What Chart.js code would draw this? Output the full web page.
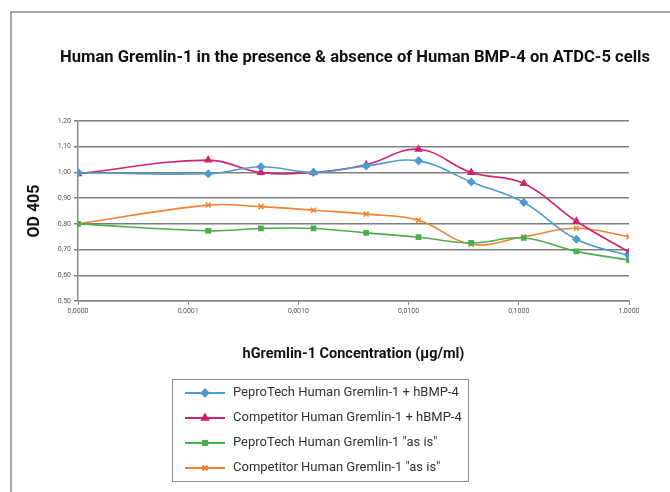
<!DOCTYPE html>
<html>
<head>
<meta charset="utf-8">
<script src="https://cdn.jsdelivr.net/npm/chart.js@4.4.1/dist/chart.umd.min.js"></script>
<style>
  html, body { margin: 0; background: #fff; }
  #wrap { width: 670px; height: 492px; }
</style>
</head>
<body>
<div id="wrap"><canvas id="chart" width="670" height="492"></canvas></div>
<script>
// hGremlin-1 concentration (µg/ml), 3-fold dilutions; first point is the "0" control
const concentrations = [0.00001, 0.000152, 0.000457, 0.00137, 0.00412, 0.0123, 0.037, 0.111, 0.333, 1.0];

const peproBmp    = [1.00, 0.995, 1.022, 1.00, 1.025, 1.045, 0.963, 0.883, 0.740, 0.676];
const competBmp   = [0.995, 1.048, 1.00, 1.00, 1.030, 1.090, 1.000, 0.957, 0.810, 0.690];
const peproAsIs   = [0.80, 0.773, 0.782, 0.782, 0.765, 0.748, 0.726, 0.745, 0.693, 0.659];
const competAsIs  = [0.80, 0.873, 0.867, 0.853, 0.838, 0.814, 0.721, 0.750, 0.783, 0.750];

const seriesNames = [
  'PeproTech Human Gremlin-1 + hBMP-4',
  'Competitor Human Gremlin-1 + hBMP-4',
  'PeproTech Human Gremlin-1 "as is"',
  'Competitor Human Gremlin-1 "as is"'
];

const xTicks = [0.00001, 0.0001, 0.001, 0.01, 0.1, 1];
const xTickLabels = ['0,0000', '0,0001', '0,0010', '0,0100', '0,1000', '1,0000'];
const yTicks = [0.5, 0.6, 0.7, 0.8, 0.9, 1.0, 1.1, 1.2];

const chartTitle = 'Human Gremlin-1 in the presence & absence of Human BMP-4 on ATDC-5 cells';

const toPoints = vals => vals.map((v, i) => ({ x: concentrations[i], y: v }));

function series(label, vals, color, style, r) {
  return {
    label: label,
    data: toPoints(vals),
    borderColor: color,
    backgroundColor: color,
    borderWidth: 1.6,
    pointStyle: style,
    pointRadius: r,
    pointBorderWidth: 1.5,
    tension: 0.4
  };
}

// outer frame + title (title is wider than the plot, so drawn by hand)
const frame = {
  id: 'frame',
  beforeDraw(chart) {
    const ctx = chart.ctx;
    ctx.save();
    ctx.strokeStyle = '#8a8a8a';
    ctx.lineWidth = 1.5;
    ctx.beginPath();
    ctx.moveTo(11, 492);
    ctx.lineTo(11, 12);
    ctx.lineTo(670, 12);
    ctx.stroke();
    ctx.fillStyle = '#111';
    ctx.font = 'bold 16.6px Roboto';
    ctx.textAlign = 'center';
    ctx.textBaseline = 'middle';
    ctx.fillText(chartTitle, 355, 58);
    ctx.restore();
  }
};

// boxed legend under the axis title
const legendBox = {
  id: 'legendBox',
  afterDraw(chart) {
    const ctx = chart.ctx;
    ctx.save();
    ctx.strokeStyle = '#8c8c8c';
    ctx.lineWidth = 1;
    ctx.strokeRect(172.5, 379.5, 296, 102);
    chart.data.datasets.forEach((ds, i) => {
      const y = 393 + i * 25;
      ctx.strokeStyle = ds.borderColor;
      ctx.lineWidth = 2;
      ctx.beginPath();
      ctx.moveTo(185, y);
      ctx.lineTo(225, y);
      ctx.stroke();
      ctx.fillStyle = ds.backgroundColor;
      Chart.helpers.drawPoint(ctx, { pointStyle: ds.pointStyle, radius: ds.pointRadius, borderWidth: 1.5, rotation: 0 }, 205, y);
      ctx.fillStyle = '#333';
      ctx.font = '13px Roboto';
      ctx.textBaseline = 'middle';
      ctx.textAlign = 'left';
      ctx.fillText(ds.label, 233, y);
    });
    ctx.restore();
  }
};

new Chart(document.getElementById('chart'), {
  type: 'line',
  data: {
    datasets: [
      series(seriesNames[0], peproBmp,   '#4d9bd1', 'rectRot', 3.5),
      series(seriesNames[1], competBmp,  '#d2226c', 'triangle', 3.5),
      series(seriesNames[2], peproAsIs,  '#4cae4f', 'rect', 3),
      series(seriesNames[3], competAsIs, '#f4812f', 'crossRot', 3.5)
    ]
  },
  options: {
    responsive: false,
    animation: false,
    layout: { padding: { top: 121, left: 12, right: 41, bottom: 129 } },
    plugins: {
      legend: { display: false },
      tooltip: { enabled: false },
      title: { display: false }
    },
    scales: {
      x: {
        type: 'logarithmic',
        min: 0.00001,
        max: 1,
        afterFit: s => { s.height = 62; },
        afterBuildTicks: s => { s.ticks = xTicks.map(v => ({ value: v })); },
        ticks: {
          autoSkip: false,
          maxRotation: 0,
          color: '#555',
          font: { family: 'Roboto', size: 7 },
          padding: 2,
          callback: (v, i) => xTickLabels[i]
        },
        grid: { drawOnChartArea: false, drawTicks: true, tickLength: 4, color: '#8a8a8a' },
        border: { color: '#8a8a8a', width: 1.5 },
        title: {
          display: true,
          text: 'hGremlin-1 Concentration (µg/ml)',
          color: '#111',
          font: { family: 'Roboto', size: 14.5, weight: 'bold' },
          padding: { top: 0, bottom: 0 }
        }
      },
      y: {
        min: 0.5,
        max: 1.2,
        afterFit: s => { s.width = 66; },
        afterBuildTicks: s => { s.ticks = yTicks.map(v => ({ value: v })); },
        ticks: {
          color: '#555',
          font: { family: 'Roboto', size: 7 },
          padding: 3,
          callback: v => v.toFixed(2).replace('.', ',')
        },
        grid: { color: '#7d7d7d', lineWidth: 1.5, tickLength: 4 },
        border: { color: '#8a8a8a', width: 1.5 },
        title: {
          display: true,
          text: 'OD 405',
          color: '#111',
          font: { family: 'Roboto', size: 16, weight: 'bold' },
          padding: { top: 13, bottom: 4 }
        }
      }
    }
  },
  plugins: [frame, legendBox]
});
</script>
</body>
</html>
